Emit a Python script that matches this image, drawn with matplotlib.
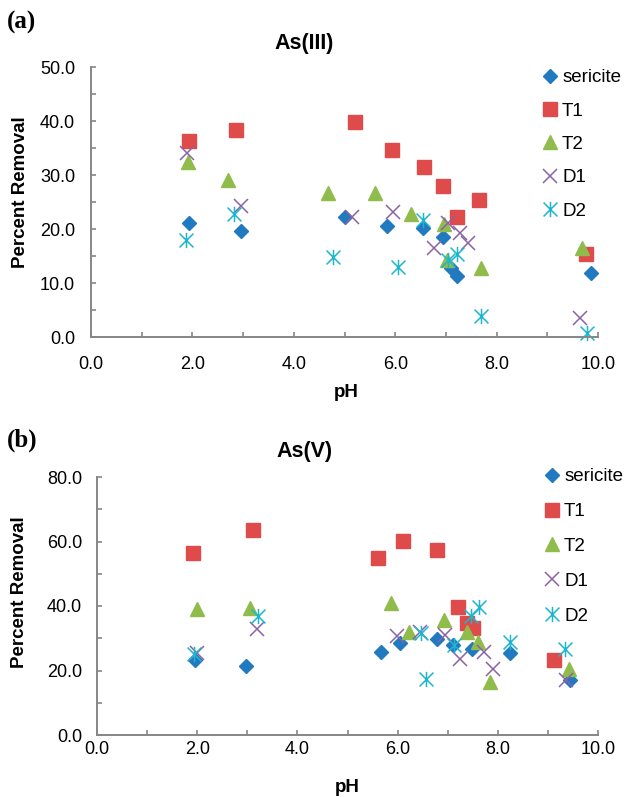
import matplotlib
matplotlib.use("Agg")
import matplotlib.pyplot as plt
from matplotlib.path import Path
from matplotlib.ticker import MultipleLocator, FormatStrFormatter

plt.rcParams['font.family'] = ['Liberation Sans', 'DejaVu Sans']

labels = ["sericite", "T1", "T2", "D1", "D2"]

# (a) As(III)
a_ph_sericite = [1.93, 2.95, 5.01, 5.83, 6.55, 6.94, 7.11, 7.21, 9.86]
a_pr_sericite = [21.2, 19.6, 22.3, 20.6, 20.1, 18.6, 12.7, 11.3, 11.8]
a_ph_t1 = [1.93, 2.86, 5.21, 5.93, 6.57, 6.95, 7.21, 7.65, 9.76]
a_pr_t1 = [36.3, 38.4, 39.9, 34.6, 31.5, 28.0, 22.3, 25.4, 15.4]
a_ph_t2 = [1.91, 2.71, 4.67, 5.61, 6.31, 6.96, 7.03, 7.69, 9.69]
a_pr_t2 = [32.5, 29.0, 26.7, 26.7, 22.7, 21.0, 14.2, 12.7, 16.4]
a_ph_d1 = [1.90, 2.95, 5.14, 5.95, 6.76, 7.05, 7.28, 7.43, 9.65]
a_pr_d1 = [34.0, 24.3, 22.2, 23.2, 16.4, 21.2, 19.2, 17.5, 3.5]
a_ph_d2 = [1.87, 2.82, 4.78, 6.05, 6.55, 7.05, 7.21, 7.70, 9.78]
a_pr_d2 = [18.0, 22.8, 14.9, 12.9, 21.7, 14.3, 15.4, 3.9, 0.8]

# (b) As(V)
b_ph_sericite = [1.95, 2.97, 5.67, 6.05, 6.78, 7.11, 7.48, 8.24, 9.45]
b_pr_sericite = [23.4, 21.4, 25.8, 28.4, 29.8, 27.9, 26.6, 25.3, 17.1]
b_ph_t1 = [1.92, 3.12, 5.60, 6.10, 6.78, 7.21, 7.38, 7.50, 9.12]
b_pr_t1 = [56.5, 63.6, 54.8, 60.2, 57.4, 39.8, 34.6, 33.1, 23.3]
b_ph_t2 = [2.00, 3.05, 5.87, 6.23, 6.92, 7.38, 7.61, 7.84, 9.43]
b_pr_t2 = [39.0, 39.5, 40.8, 32.0, 35.8, 32.0, 28.9, 16.3, 20.6]
b_ph_d1 = [1.99, 3.19, 5.98, 6.45, 6.95, 7.24, 7.72, 7.90, 9.37]
b_pr_d1 = [25.3, 32.9, 30.7, 32.0, 31.0, 23.6, 25.8, 20.6, 17.1]
b_ph_d2 = [1.94, 3.21, 6.46, 6.56, 7.12, 7.47, 7.62, 8.24, 9.34]
b_pr_d2 = [25.1, 36.9, 31.7, 17.3, 28.0, 37.0, 39.8, 28.8, 26.6]

# excel-like star: an x with a vertical bar
star = Path([(-1, -1), (1, 1), (-1, 1), (1, -1), (0, -1.1), (0, 1.1)],
            [Path.MOVETO, Path.LINETO, Path.MOVETO, Path.LINETO, Path.MOVETO, Path.LINETO])

styles = [
    dict(marker="D", ms=7.4, color="#2179C0", mec="#2179C0"),
    dict(marker="s", ms=10, color="#DF4B4B", mec="#DF4B4B"),
    dict(marker="^", ms=10.5, color="#8FBC4B", mec="#8FBC4B"),
    dict(marker="x", ms=10, color="#8B62A8", mew=1.1),
    dict(marker=star, ms=11, color="#1BB6CF", mfc="none", mew=1.1),
]

grey = "#868686"


def setup(ax, ymax, ymaj, ymin, xpad, ypad):
    ax.set_xlim(0, 10)
    ax.set_ylim(0, ymax)
    for s in ["top", "right"]:
        ax.spines[s].set_visible(False)
    for s in ["left", "bottom"]:
        ax.spines[s].set_color(grey)
        ax.spines[s].set_linewidth(1.4)
    ax.xaxis.set_major_locator(MultipleLocator(2))
    ax.xaxis.set_minor_locator(MultipleLocator(1))
    ax.yaxis.set_major_locator(MultipleLocator(ymaj))
    ax.yaxis.set_minor_locator(MultipleLocator(ymin))
    ax.xaxis.set_major_formatter(FormatStrFormatter("%.1f"))
    ax.yaxis.set_major_formatter(FormatStrFormatter("%.1f"))
    ax.tick_params(which="both", direction="in", length=3.6, width=1.2, color=grey,
                   labelsize=13, labelcolor="black")
    ax.tick_params(axis="x", which="both", pad=xpad)
    ax.tick_params(axis="y", which="both", pad=ypad)
    ax.set_xlabel("pH", fontsize=13.5, fontweight="bold")
    ax.set_ylabel("Percent Removal", fontsize=13.5, fontweight="bold")
    ax.xaxis.label.set_va("center")
    ax.yaxis.label.set_va("center")


fig = plt.figure(figsize=(6.31, 7.97), dpi=100)

ax_a = fig.add_axes([91 / 631, 1 - 337 / 797, 507 / 631, 270 / 797])
ax_b = fig.add_axes([97 / 631, 1 - 735 / 797, 501 / 631, 258 / 797])

data_a = [(a_ph_sericite, a_pr_sericite), (a_ph_t1, a_pr_t1), (a_ph_t2, a_pr_t2),
          (a_ph_d1, a_pr_d1), (a_ph_d2, a_pr_d2)]
data_b = [(b_ph_sericite, b_pr_sericite), (b_ph_t1, b_pr_t1), (b_ph_t2, b_pr_t2),
          (b_ph_d1, b_pr_d1), (b_ph_d2, b_pr_d2)]

for ax, data in [(ax_a, data_a), (ax_b, data_b)]:
    for (x, y), lab, st in zip(data, labels, styles):
        ax.plot(x, y, linestyle="none", label=lab, clip_on=False, **st)

setup(ax_a, 50, 10, 5, 14, 11.5)
setup(ax_b, 80, 20, 10, 4.3, 10.8)

ax_a.xaxis.set_label_coords(0.503, -0.204)
ax_a.yaxis.set_label_coords(-0.14, 0.537)
ax_b.xaxis.set_label_coords(0.499, -0.202)
ax_b.yaxis.set_label_coords(-0.154, 0.554)

ax_a.legend(loc="upper left", bbox_to_anchor=(540.5 / 631, 1 - 69 / 797), bbox_transform=fig.transFigure,
            frameon=False, numpoints=1, handlelength=1.0, handletextpad=0.15,
            labelspacing=0.87, fontsize=13.5, borderpad=0, borderaxespad=0)
ax_b.legend(loc="upper left", bbox_to_anchor=(542.5 / 631, 1 - 468 / 797), bbox_transform=fig.transFigure,
            frameon=False, numpoints=1, handlelength=1.0, handletextpad=0.15,
            labelspacing=0.95, fontsize=13.5, borderpad=0, borderaxespad=0)

fig.text(304 / 631, 1 - 44 / 797, "As(III)", ha="center", va="center", fontsize=15.5, fontweight="bold")
fig.text(305 / 631, 1 - 452 / 797, "As(V)", ha="center", va="center", fontsize=15.5, fontweight="bold")
fig.text(22 / 631, 1 - 22 / 797, "(a)", ha="center", va="center", fontsize=18, fontweight="bold",
         family="Liberation Serif")
fig.text(22 / 631, 1 - 440 / 797, "(b)", ha="center", va="center", fontsize=18, fontweight="bold",
         family="Liberation Serif")

fig.savefig("out.png", dpi=100)
